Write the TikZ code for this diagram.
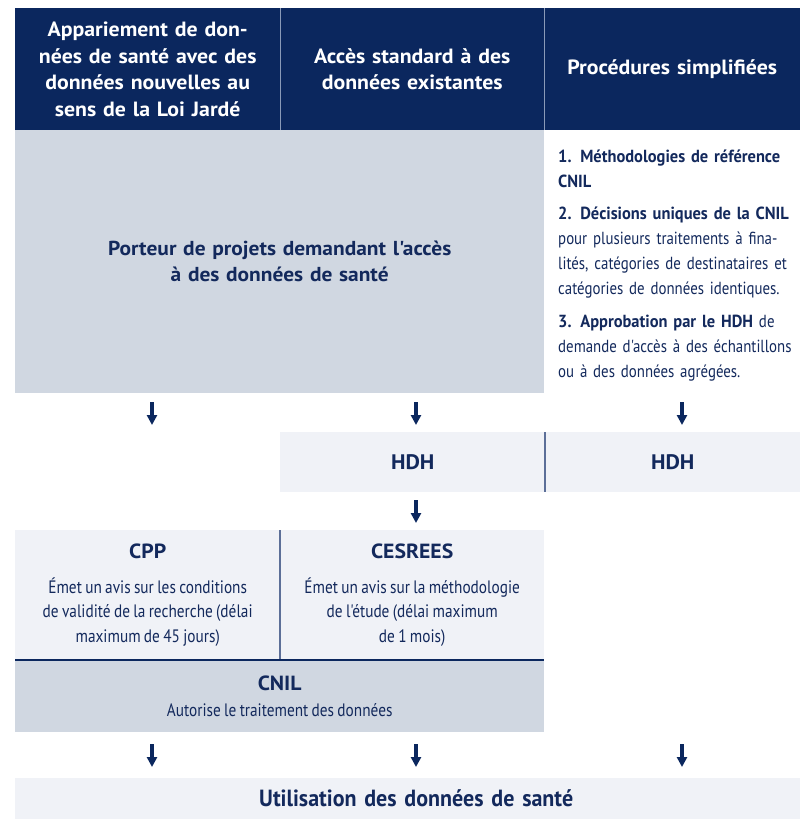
\documentclass[tikz,border=0pt]{standalone}
\usepackage{fontspec}
\setmainfont{PT Sans}[Ligatures=TeXOff]
\newfontfamily\wfont{PT Sans}[Ligatures=TeXOff,FakeStretch=1.06]
\newfontfamily\cfont{PT Sans}[Ligatures=TeXOff,FakeStretch=0.85]
\newfontfamily\cbfont{PT Sans}[Ligatures=TeXOff,FakeStretch=0.94]
\usetikzlibrary{arrows.meta}
\definecolor{navy}{HTML}{0B275E}
\definecolor{greybox}{HTML}{D0D7E1}
\definecolor{lightbox}{HTML}{F0F2F7}
\definecolor{linec}{HTML}{5C6F98}
\definecolor{hdrline}{HTML}{8A9AB8}
\definecolor{txt}{HTML}{13295C}
\begin{document}
\begin{tikzpicture}[x=1pt,y=-1pt,
  box/.style={anchor=north west,inner sep=0pt,align=center,text=txt},
  hdr/.style={box,fill=navy,text=white,minimum height=122pt,
    font=\wfont\bfseries\fontsize{20.6}{26.7}\selectfont},
  arr/.style={draw=navy,line width=3.2pt,-{Triangle[width=10pt,length=10pt]}},
  rc/.style={anchor=north west,inner sep=0pt,align=left,text=txt,text width=240pt,
    font=\cfont\fontsize{17.5}{25}\selectfont}
]
\useasboundingbox (0,0) rectangle (800,819);
% header
\node[hdr,minimum width=265pt,text width=255pt] (h1) at (15,8)
  {Appariement de don-\\nées de santé avec des\\données nouvelles au\\sens de la Loi Jardé};
\node[hdr,minimum width=264pt,text width=255pt] (h2) at (280,8)
  {Accès standard à des\\données existantes};
\node[hdr,minimum width=256pt,text width=250pt] (h3) at (544,8)
  {Procédures simplifiées};
\draw[hdrline,line width=1.2pt] (h1.north east) -- (h1.south east);
\draw[hdrline,line width=1.2pt] (h2.north east) -- (h2.south east);
% porteur
\node[box,fill=greybox,minimum width=529pt,minimum height=263pt,text width=510pt,
  font=\wfont\bfseries\fontsize{20.2}{26}\selectfont] (porteur) at (15,130)
  {Porteur de projets demandant l'accès\\à des données de santé};
% right column
\node[rc] (m1) at (558,150) {\cbfont\bfseries 1. Méthodologies de référence\\CNIL};
\node[rc] (m2) at (558,207) {{\cbfont\bfseries 2. Décisions uniques de la CNIL}\\pour plusieurs traitements à fina-\\lités, catégories de destinataires et\\catégories de données identiques.};
\node[rc] (m3) at (558,315) {{\cbfont\bfseries 3. Approbation par le HDH} de\\demande d'accès à des échantillons\\ou à des données agrégées.};
% HDH
\node[box,fill=lightbox,minimum width=265pt,minimum height=60pt,
  font=\wfont\bfseries\fontsize{21}{24}\selectfont] (hdh1) at (280,432) {HDH};
\node[box,fill=lightbox,minimum width=255pt,minimum height=60pt,
  font=\wfont\bfseries\fontsize{21}{24}\selectfont] (hdh2) at (545,432) {HDH};
\draw[linec,line width=1.2pt] (hdh2.north west) -- (hdh2.south west);
% CPP / CESREES
\node[box,fill=lightbox,minimum width=265pt,minimum height=130pt,text width=255pt] (cpp) at (15,530)
  {{\wfont\bfseries\fontsize{20.5}{24}\selectfont CPP\par}\vspace{10pt}
   {\cfont\fontsize{18}{24.7}\selectfont Émet un avis sur les conditions\\de validité de la recherche (délai\\maximum de 45 jours)\par}};
\node[box,fill=lightbox,minimum width=264pt,minimum height=130pt,text width=255pt] (ces) at (280,530)
  {{\wfont\bfseries\fontsize{20.5}{24}\selectfont CESREES\par}\vspace{10pt}
   {\cfont\fontsize{18}{24.7}\selectfont Émet un avis sur la méthodologie\\de l'étude (délai maximum\\de 1 mois)\par}};
\draw[linec,line width=1.2pt] (ces.north west) -- (ces.south west);
% CNIL
\node[box,fill=greybox,minimum width=529pt,minimum height=72pt,text width=510pt] (cnil) at (15,660)
  {{\wfont\bfseries\fontsize{20.5}{24}\selectfont CNIL\par}\vspace{1pt}
   {\cfont\fontsize{18}{25}\selectfont Autorise le traitement des données\par}};
\draw[navy,line width=1.2pt] (cnil.north west) -- (cnil.north east);
% bottom
\node[box,fill=lightbox,minimum width=785pt,minimum height=41pt,text width=760pt,
  font=\cbfont\bfseries\fontsize{23.4}{26}\selectfont] (util) at (15,778)
  {\hspace*{17pt}Utilisation des données de santé};
% arrows
\coordinate (a1s) at (152,402); \coordinate (a1e) at (152,425);
\coordinate (a2s) at (416,402); \coordinate (a2e) at (416,425);
\coordinate (a3s) at (682,402); \coordinate (a3e) at (682,425);
\coordinate (b2s) at (416,500); \coordinate (b2e) at (416,523);
\coordinate (c1s) at (152,744); \coordinate (c1e) at (152,767);
\coordinate (c2s) at (416,744); \coordinate (c2e) at (416,767);
\coordinate (c3s) at (682,744); \coordinate (c3e) at (682,767);
\foreach \s/\e in {a1s/a1e,a2s/a2e,a3s/a3e,b2s/b2e,c1s/c1e,c2s/c2e,c3s/c3e}
  \draw[arr] (\s) -- (\e);
\end{tikzpicture}
\end{document}
